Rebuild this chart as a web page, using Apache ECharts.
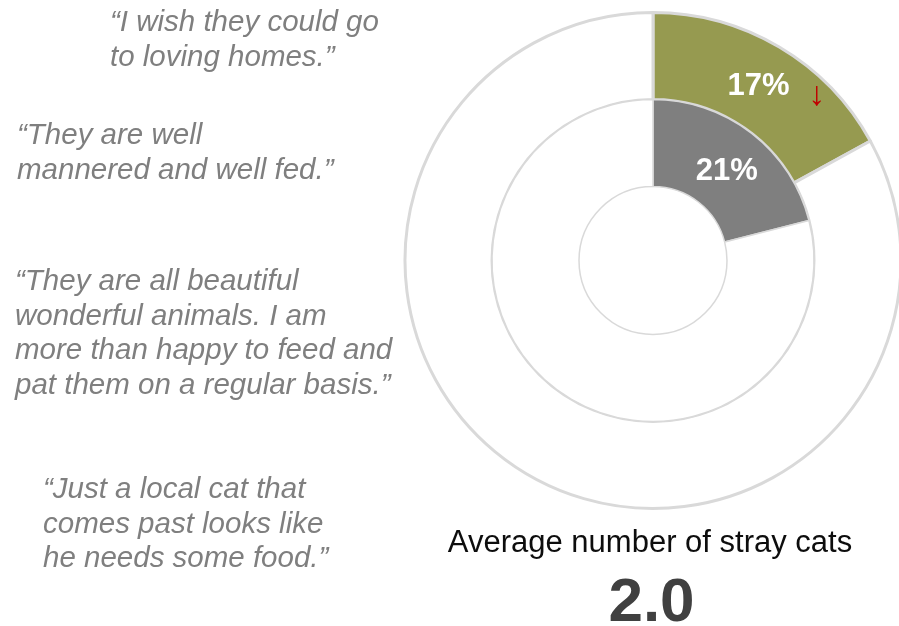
<!DOCTYPE html>
<html>
<head>
<meta charset="utf-8">
<script src="https://cdn.jsdelivr.net/npm/echarts@6/dist/echarts.min.js"></script>
<style>
  html, body { margin: 0; padding: 0; background: #ffffff; }
  #chart { width: 899px; height: 626px; }
</style>
</head>
<body>
<div id="chart"></div>
<script>
// ---- data ----
const outerValues = [17, 83];          // outer ring: highlighted share, remainder
const innerValues = [21, 79];          // inner ring: highlighted share, remainder
const outerTrend = '↓';                // trend marker next to outer value
const quotes = [
  '“I wish they could go\nto loving homes.”',
  '“They are well\nmannered and well fed.”',
  '“They are all beautiful\nwonderful animals. I am\nmore than happy to feed and\npat them on a regular basis.”',
  '“Just a local cat that\ncomes past looks like\nhe needs some food.”'
];
const captionText = 'Average number of stray cats';
const averageValue = 2.0;

// ---- styles / layout ----
const quotePos = [[110, 6], [17, 119], [15, 265], [43, 473]];
const green = '#969a50';
const grey = '#7f7f7f';
const ringBorder = '#d9d9d9';
const font = 'Liberation Sans, Arial, sans-serif';

const chart = echarts.init(document.getElementById('chart'), null, { renderer: 'canvas' });

function ringData(values, color, labelOpt) {
  return values.map((v, i) => ({
    value: v,
    itemStyle: { color: i === 0 ? color : '#ffffff' },
    label: i === 0 ? labelOpt : { show: false }
  }));
}

const option = {
  animation: false,
  backgroundColor: '#ffffff',
  series: [
    {
      type: 'pie',
      silent: true,
      center: [653, 260.5],
      radius: [161, 248],
      startAngle: 90,
      clockwise: true,
      avoidLabelOverlap: false,
      labelLine: { show: false },
      emphasis: { disabled: true },
      itemStyle: { borderColor: ringBorder, borderWidth: 3 },
      data: ringData(outerValues, green, {
        show: true,
        position: 'inside',
        formatter: (p) => '{s|}{v|' + p.value + '%}{a|' + outerTrend + '}',
        rich: {
          s: { width: 54, height: 60 },
          v: { fontFamily: font, fontSize: 31, fontWeight: 'bold', color: '#ffffff', height: 60, padding: [10, 0, 0, 0], verticalAlign: 'middle' },
          a: { fontFamily: font, fontSize: 34, color: '#c00000', width: 54, align: 'center', height: 60, padding: [28, 0, 0, 0], verticalAlign: 'middle' }
        },
        textBorderWidth: 0
      })
    },
    {
      type: 'pie',
      silent: true,
      center: [653, 260.5],
      radius: [74, 161],
      startAngle: 90,
      clockwise: true,
      avoidLabelOverlap: false,
      labelLine: { show: false },
      emphasis: { disabled: true },
      itemStyle: { borderColor: ringBorder, borderWidth: 1.5 },
      data: ringData(innerValues, grey, {
        show: true,
        position: 'inside',
        formatter: (p) => '{v|' + p.value + '%}',
        rich: {
          v: { fontFamily: font, fontSize: 31, fontWeight: 'bold', color: '#ffffff', padding: [12, 0, 0, 0] }
        },
        textBorderWidth: 0
      })
    }
  ],
  graphic: [
    ...quotes.map((q, i) => ({
      type: 'text',
      silent: true,
      x: quotePos[i][0],
      y: quotePos[i][1],
      style: {
        text: q,
        fontFamily: font,
        fontSize: 29.5,
        fontStyle: 'italic',
        fill: '#7f7f7f',
        lineHeight: 34.5,
        align: 'left',
        verticalAlign: 'top'
      }
    })),
    {
      type: 'text',
      silent: true,
      x: 650,
      y: 543,
      style: {
        text: captionText,
        fontFamily: font,
        fontSize: 31,
        fill: '#0d0d0d',
        align: 'center',
        verticalAlign: 'middle'
      }
    },
    {
      type: 'text',
      silent: true,
      x: 651.5,
      y: 604,
      style: {
        text: averageValue.toFixed(1),
        fontFamily: font,
        fontSize: 62,
        fontWeight: 'bold',
        fill: '#404040',
        align: 'center',
        verticalAlign: 'middle'
      }
    }
  ]
};

chart.setOption(option);
</script>
</body>
</html>
